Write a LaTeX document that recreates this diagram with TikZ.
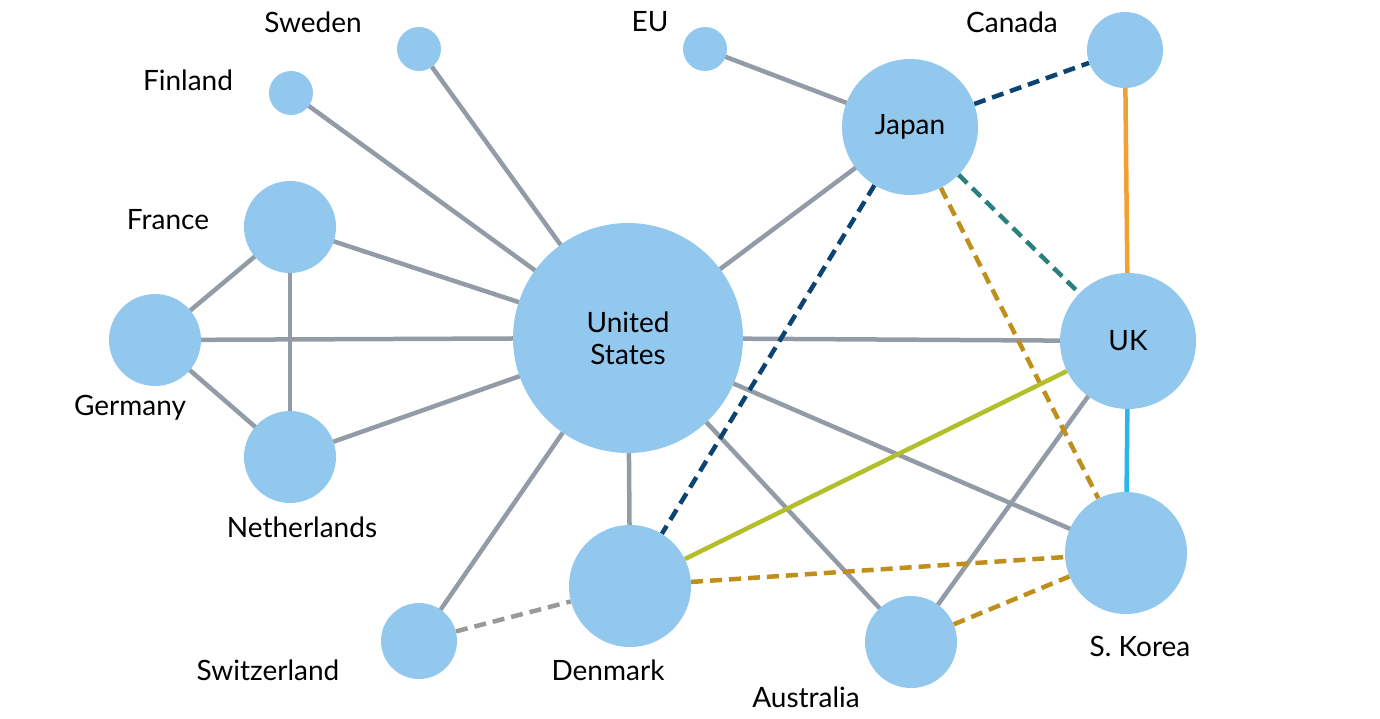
\documentclass[tikz,border=0pt]{standalone}
\usepackage{fontspec}
\setmainfont{Lato}
\usetikzlibrary{backgrounds}
\definecolor{nd}{HTML}{93C8EE}
\definecolor{eg}{HTML}{939CA6}
\definecolor{db}{HTML}{0B4373}
\definecolor{tl}{HTML}{2A7F7F}
\definecolor{gd}{HTML}{C08F1B}
\definecolor{og}{HTML}{F3A033}
\definecolor{lm}{HTML}{B2BF2A}
\definecolor{cy}{HTML}{2BB5E8}
\begin{document}
\begin{tikzpicture}[x=1pt,y=-1pt,
  n/.style={circle,fill=nd,inner sep=0pt,minimum size=#1,font=\fontsize{28}{32}\selectfont,align=center},
  lb/.style={font=\fontsize{28}{32}\selectfont,inner sep=0pt},
  e/.style={line width=4.5pt,eg},
  d/.style={line width=4.5pt,dash pattern=on 12pt off 7pt,#1}]
\useasboundingbox (0,0) rectangle (1380,718);
\node[n=230] (us) at (628,338) {United\\States};
\node[n=44] (se) at (419,49) {};
\node[n=44] (fi) at (291,93) {};
\node[n=44] (eu) at (705,49) {};
\node[n=136] (jp) at (910,127) {Japan};
\node[n=76] (ca) at (1125,50) {};
\node[n=92] (fr) at (290,227) {};
\node[n=92] (de) at (155,340) {};
\node[n=92] (nl) at (290,457) {};
\node[n=136] (uk) at (1128,341) {UK};
\node[n=122] (kr) at (1126,553) {};
\node[n=122] (dk) at (630,586) {};
\node[n=76] (ch) at (419,641) {};
\node[n=92] (au) at (911,642) {};
\node[lb] (lse) at (313,22) {Sweden};
\node[lb] (lfi) at (188,80) {Finland};
\node[lb] (leu) at (650,22) {EU};
\node[lb] (lca) at (1012,22) {Canada};
\node[lb] (lfr) at (168,220) {France};
\node[lb] (lde) at (130,408) {Germany};
\node[lb] (lnl) at (302,527) {Netherlands};
\node[lb] (lch) at (268,670) {Switzerland};
\node[lb] (ldk) at (608,670) {Denmark};
\node[lb] (lau) at (806,697) {Australia};
\node[lb] (lkr) at (1140,646) {S. Korea};
\begin{pgfonlayer}{background}
\foreach \a/\b in {fi/us,se/us,fr/us,de/us,nl/us,fr/de,fr/nl,de/nl,eu/jp,jp/us,us/uk,us/dk,us/ch,us/au,us/kr,uk/au}
  \draw[e] (\a.center) -- (\b.center);
\draw[d=db] (jp) -- (ca);
\draw[d=db] (jp) -- (dk);
\draw[d=tl] (jp) -- (uk);
\draw[d=gd] (jp) -- (kr);
\draw[d=gd] (dk) -- (kr);
\draw[d=gd] (au) -- (kr);
\draw[d={gray!80}] (ch) -- (dk);
\draw[line width=4.5pt,og] (ca) -- (uk);
\draw[line width=4.5pt,cy] (uk) -- (kr);
\draw[line width=4.5pt,lm] (dk) -- (uk);
\end{pgfonlayer}
\end{tikzpicture}
\end{document}
